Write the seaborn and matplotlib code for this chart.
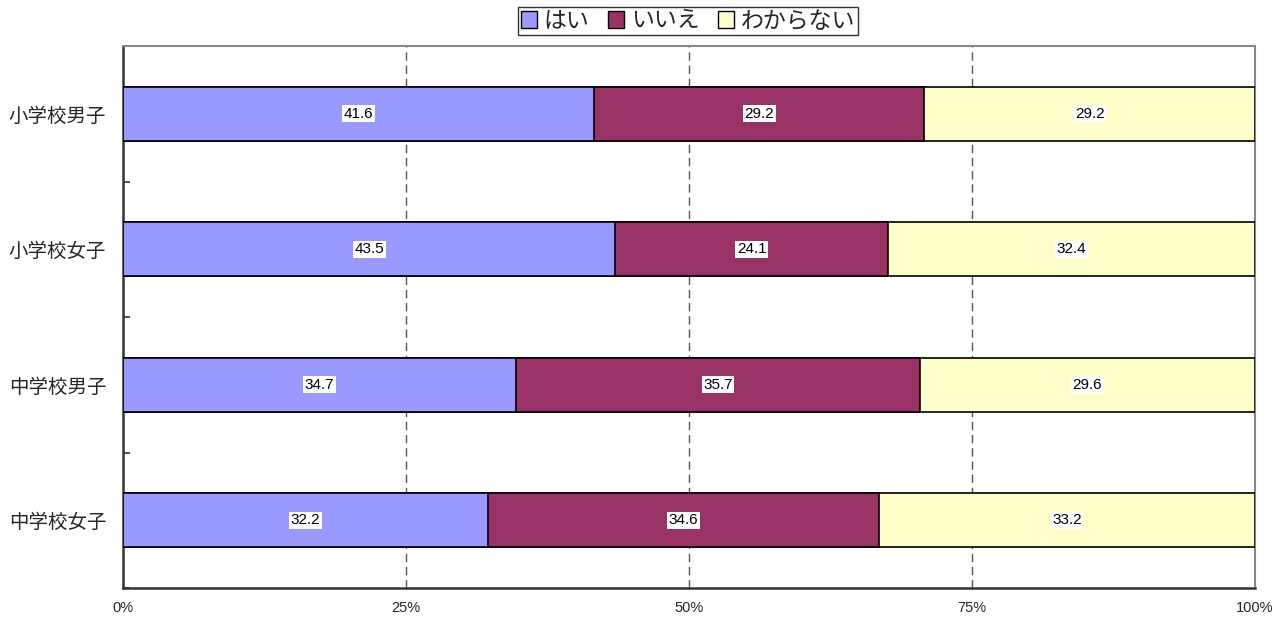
import matplotlib
matplotlib.use("Agg")
import matplotlib.pyplot as plt
from matplotlib.patches import Patch
from matplotlib.ticker import FixedLocator, PercentFormatter
import numpy as np
import pandas as pd
import seaborn as sns

categories = ["小学校男子", "小学校女子", "中学校男子", "中学校女子"]
series_names = ["はい", "いいえ", "わからない"]
yes_vals = [41.6, 43.5, 34.7, 32.2]
no_vals = [29.2, 24.1, 35.7, 34.6]
unknown_vals = [29.2, 32.4, 29.6, 33.2]
x_ticks = [0, 25, 50, 75, 100]

colors = ["#9999FF", "#993366", "#FFFFCC"]

sns.set_theme(style="white")
plt.rcParams["font.family"] = ["Noto Sans CJK JP", "DejaVu Sans"]

vals = np.array([yes_vals, no_vals, unknown_vals])
cum = np.cumsum(vals, axis=0)
starts = cum - vals

fig = plt.figure(figsize=(12.85, 6.21), dpi=100)
ax = fig.add_axes([123 / 1285, 1 - 588 / 621, (1255 - 123) / 1285, (588 - 46) / 621])

# Stacked horizontal bars: draw cumulative totals from the longest down
for i in reversed(range(3)):
    df = pd.DataFrame({"cat": categories, "val": cum[i]})
    sns.barplot(data=df, x="val", y="cat", orient="h", color=colors[i],
                saturation=1, edgecolor="black", linewidth=1.2, width=0.4,
                ax=ax, zorder=3)

# Value labels at the centre of each segment
for i in range(3):
    for j in range(len(categories)):
        ax.text(starts[i, j] + vals[i, j] / 2, j, f"{vals[i, j]:.1f}",
                ha="center", va="center", fontsize=11,
                family=["Liberation Sans", "DejaVu Sans"], color="black",
                bbox=dict(boxstyle="square,pad=0.1", fc="white", ec="none"),
                zorder=5)

ax.set_xlim(0, 100)
ax.set_ylim(3.5, -0.5)
ax.set_xlabel("")
ax.set_ylabel("")
ax.xaxis.set_major_locator(FixedLocator(x_ticks))
ax.xaxis.set_major_formatter(PercentFormatter(decimals=0))
for x in x_ticks[1:-1]:
    ax.axvline(x, color="#555555", linestyle=(0, (6, 3.5)), linewidth=1, zorder=1)

ax.tick_params(axis="x", length=0, pad=9, labelsize=10.5)
ax.tick_params(axis="y", length=0, pad=12, labelsize=14)
for lab in ax.get_xticklabels():
    lab.set_family(["Liberation Sans", "DejaVu Sans"])

# Category boundary ticks on the left spine
ax.yaxis.set_minor_locator(FixedLocator([-0.5, 0.5, 1.5, 2.5, 3.5]))
ax.tick_params(axis="y", which="minor", direction="in", length=5, width=1.2,
               color="#333333", left=True)

for side in ["left", "bottom"]:
    ax.spines[side].set_color("#333333")
    ax.spines[side].set_linewidth(1.8)
for side in ["top", "right"]:
    ax.spines[side].set_color("#888888")
    ax.spines[side].set_linewidth(1.5)

handles = [Patch(facecolor=c, edgecolor="black", linewidth=1) for c in colors]
leg = fig.legend(handles, series_names, loc="center", ncol=3,
                 bbox_to_anchor=(688 / 1285, 1 - 21 / 621), frameon=True,
                 handlelength=0.7, handleheight=0.7,
                 handletextpad=0.3, columnspacing=0.8, borderpad=0.12,
                 fancybox=False, edgecolor="black",
                 prop={"size": 16.5,
                       "family": ["Noto Sans CJK JP", "DejaVu Sans"]})
leg.get_frame().set_linewidth(1.0)

fig.savefig("out.png", dpi=100)
